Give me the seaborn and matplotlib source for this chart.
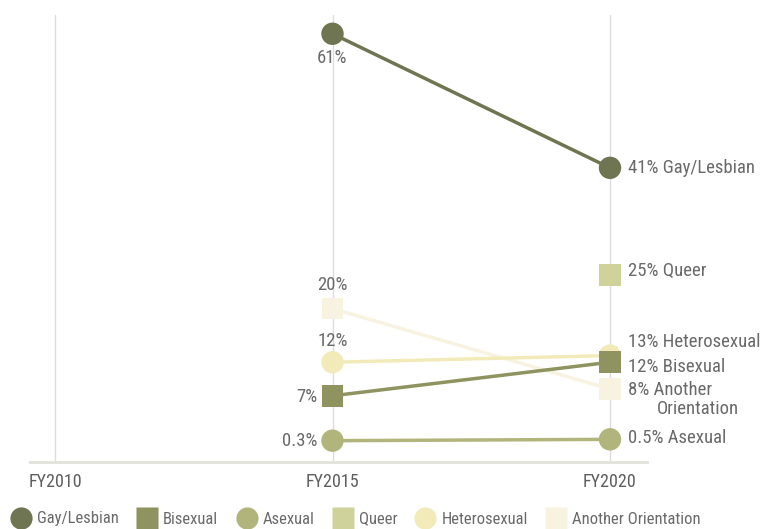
import matplotlib
matplotlib.use("Agg")
import matplotlib.pyplot as plt
from matplotlib.lines import Line2D
import seaborn as sns
import pandas as pd

# Survey share by sexual orientation, by fiscal year
years = ["FY2010", "FY2015", "FY2020"]
series = ["Gay/Lesbian", "Bisexual", "Asexual", "Queer", "Heterosexual", "Another Orientation"]
gay_lesbian = [None, 61, 41]
bisexual = [None, 7, 12]
asexual = [None, 0.3, 0.5]
queer = [None, None, 25]
heterosexual = [None, 12, 13]
another = [None, 20, 8]

colors = {
    "Gay/Lesbian": "#6f7451",
    "Bisexual": "#8f935f",
    "Asexual": "#b1b57b",
    "Queer": "#cfd39b",
    "Heterosexual": "#f2ebb9",
    "Another Orientation": "#f8f2e0",
}
markers = {
    "Gay/Lesbian": "o", "Bisexual": "s", "Asexual": "o",
    "Queer": "s", "Heterosexual": "o", "Another Orientation": "s",
}
values = {
    "Gay/Lesbian": gay_lesbian, "Bisexual": bisexual, "Asexual": asexual,
    "Queer": queer, "Heterosexual": heterosexual, "Another Orientation": another,
}

rows = []
for name in series:
    for i, v in enumerate(values[name]):
        if v is not None:
            rows.append({"x": i, "year": years[i], "value": v, "group": name})
df = pd.DataFrame(rows)

sns.set_theme(style="white")
plt.rcParams["font.family"] = ["Roboto Condensed", "DejaVu Sans"]
text_color = "#6a6a6a"

fig = plt.figure(figsize=(7.7, 5.29), dpi=100)
ax = fig.add_axes([30 / 770, 1 - 462 / 529, 617 / 770, 447 / 529])

for i in range(len(years)):
    ax.axvline(i, color="#dcdcdc", lw=1, zorder=0)

draw_order = ["Another Orientation", "Heterosexual", "Queer", "Asexual", "Bisexual", "Gay/Lesbian"]
for z, name in enumerate(draw_order):
    sub = df[df["group"] == name]
    if len(sub) > 1:
        sns.lineplot(data=sub, x="x", y="value", color=colors[name], lw=2.5,
                     ax=ax, zorder=2 + z, legend=False)
    sns.scatterplot(data=sub, x="x", y="value", color=colors[name],
                    marker=markers[name], s=260 if markers[name] == "o" else 240,
                    edgecolor="none", ax=ax, zorder=10 + z, legend=False)

ax.set_xlim(-25 / 277.5, 2 + 37 / 277.5)
ax.set_ylim(-2.88, 63.8)
ax.set_xticks(range(len(years)))
ax.set_xticklabels(years, fontsize=13, color="#5e5e5e")
ax.set_yticks([])
ax.set_xlabel("")
ax.set_ylabel("")
for s in ["top", "left", "right"]:
    ax.spines[s].set_visible(False)
ax.spines["bottom"].set_color("#e2e2dc")
ax.spines["bottom"].set_linewidth(2)
ax.tick_params(axis="x", length=0, pad=8)


def label(x, y, text, dx, dy, ha="center", va="center"):
    ax.annotate(text, (x, y), xytext=(dx, dy), textcoords="offset pixels",
                ha=ha, va=va, fontsize=13.5, color=text_color, zorder=30)


# FY2015 labels
label(1, 61, "61%", 0, -24)
label(1, 20, "20%", 0, 24)
label(1, 12, "12%", 0, 21)
label(1, 7, "7%", -15, -1, ha="right")
label(1, 0.3, "0.3%", -15, 0, ha="right")

# FY2020 labels
label(2, 41, "41% Gay/Lesbian", 18, 0, ha="left")
label(2, 25, "25% Queer", 18, 4, ha="left")
label(2, 13, "13% Heterosexual", 18, 14, ha="left")
label(2, 12, "12% Bisexual", 18, -5, ha="left")
label(2, 8, "8% Another", 18, -1, ha="left")
label(2, 8, "Orientation", 47, -20, ha="left")
label(2, 0.5, "0.5% Asexual", 18, 1, ha="left")

handles = [
    Line2D([0], [0], marker=markers[n], linestyle="none", markerfacecolor=colors[n],
           markeredgecolor="none", markersize=16)
    for n in series
]
fig.legend(handles, series, loc="center left", bbox_to_anchor=(13 / 770, 1 - 519 / 529),
           ncol=6, frameon=False, fontsize=12, labelcolor=text_color,
           handlelength=1.0, handletextpad=0.45, columnspacing=1.2,
           borderaxespad=0, borderpad=0)

fig.savefig("out.png", dpi=100)
